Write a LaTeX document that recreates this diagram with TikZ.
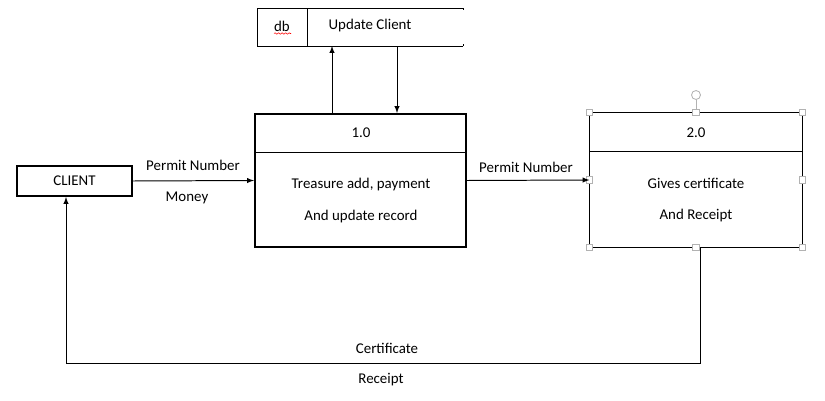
\documentclass[tikz,border=0pt]{standalone}
\usepackage{fontspec}
\setmainfont{Carlito}
\usetikzlibrary{decorations.pathmorphing}

\tikzset{
	process/.style={draw,line width=1.4pt,minimum width=5.275cm,minimum height=3.325cm,inner sep=0pt},
	entity/.style={draw,line width=1.4pt,minimum width=2.875cm,minimum height=0.75cm,inner sep=0pt},
	flow/.style={-latex,line width=0.7pt},
	handle/.style={draw=gray!60,fill=white,line width=0.5pt,minimum size=4.5pt,inner sep=0pt}
}

\begin{document}
\begin{tikzpicture}[x=0.025cm,y=-0.025cm,font=\fontsize{10.6}{12}\selectfont]
		\useasboundingbox (0,0) rectangle (825,401);
		% external entity
		\node[entity] (client) at (74.5,181) {CLIENT};
		% data store
		\begin{scope}[line width=0.7pt]
			\coordinate (stnw) at (257,8);
			\coordinate (stsw) at (257,46);
			\coordinate (stne) at (463,8);
			\coordinate (stse) at (463,46);
			\draw (stne) -- (stnw) -- (stsw) -- (stse);
			\draw (stne) -- ++(0,2) (stse) -- ++(0,-2);
			\draw (307,8) -- (307,46);
			\node (db) at (282,26) {db};
			\node (store) at (370,26) {Update Client};
			\draw[red,line width=0.4pt,decorate,decoration={snake,amplitude=0.5pt,segment length=2.5pt}] (274,33.5) -- (291,33.5);
		\end{scope}
		% process 1.0
		\node[process] (p1) at (360.5,180.5) {};
		\coordinate (d1) at (0,152);
		\draw[line width=0.7pt] (p1.west |- d1) -- (p1.east |- d1);
		\node (n1) at (361,133) {1.0};
		\node[align=center] (t1) at (361,200.5) {Treasure add, payment\\[10.5pt]And update record};
		% process 2.0
		\node[process,line width=0.7pt,minimum width=5.3cm,minimum height=3.35cm] (p2) at (696,180) {};
		\coordinate (d2) at (0,151);
		\draw[line width=0.7pt] (p2.west |- d2) -- (p2.east |- d2);
		\node (n2) at (696,133) {2.0};
		\node[align=center] (t2) at (696,200) {Gives certificate\\[10pt]And Receipt};
		% selection handles
		\draw[gray!60,line width=0.5pt] (p2.north) -- (696,100);
		\draw[gray!60,line width=0.6pt] (696,95) circle (4.5);
		\foreach \a in {north west,north,north east,west,east,south west,south,south east}{
			\node[handle] at (p2.\a) {};
		}
		% flows
		\coordinate (up1) at (332,0);
		\coordinate (dn1) at (397,0);
		\draw[flow] (p1.north -| up1) -- (stsw -| up1);
		\draw[flow] (stsw -| dn1) -- (p1.north -| dn1);
		\draw[flow] (client.east) -- (p1.west);
		\node (pn1) at (193,165) {Permit Number};
		\node (money) at (187,198) {Money};
		\draw[flow] (p1.east) -- (p2.west);
		\node (pn2) at (526,167) {Permit Number};
		\coordinate (rt) at (700,363);
		\coordinate (lt) at (66,363);
		\draw[flow] (p2.south -| rt) -- (rt) -- (lt) -- (client.south -| lt);
		\node (cert) at (387,348) {Certificate};
		\node (rec) at (381,380) {Receipt};
	\end{tikzpicture}
\end{document}
